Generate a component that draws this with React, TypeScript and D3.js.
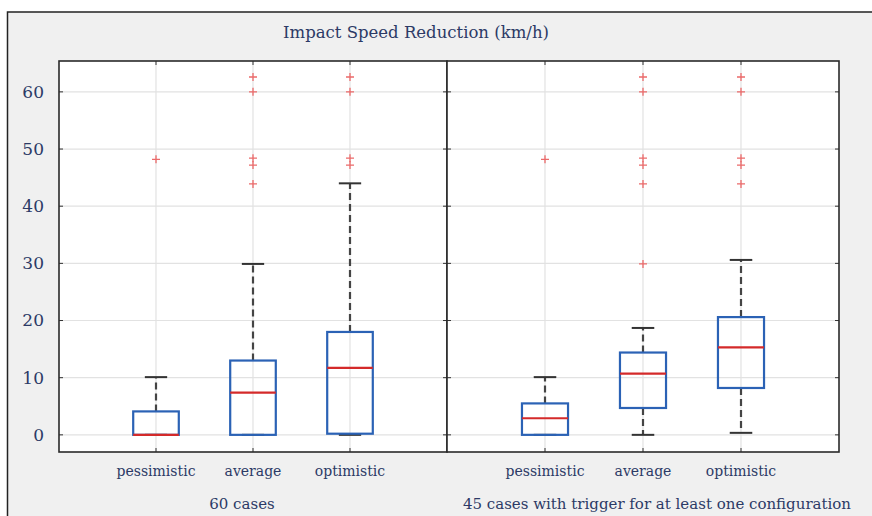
import React, { useEffect, useRef } from 'react';
import * as d3 from 'd3';

const categories = ['pessimistic', 'average', 'optimistic'];
const groupLabels = ['60 cases', '45 cases with trigger for at least one configuration'];
const yTicks = [0, 10, 20, 30, 40, 50, 60];

// one entry per group, one value per category
const whiskerLow = [[0, 0, 0], [0, 0, 0.35]];
const q1 = [[0, 0, 0.2], [0, 4.7, 8.2]];
const median = [[0, 7.4, 11.7], [2.9, 10.7, 15.3]];
const q3 = [[4.1, 13, 18], [5.5, 14.4, 20.6]];
const whiskerHigh = [[10.1, 29.9, 44], [10.1, 18.7, 30.6]];
const outliers = [
    [[48.2], [62.6, 60, 48.4, 47.2, 43.9], [62.6, 60, 48.4, 47.2]],
    [[48.2], [62.6, 60, 48.4, 47.2, 43.9, 29.9], [62.6, 60, 48.4, 47.2, 43.9]],
];

const W = 872;
const H = 516;

const App: React.FC = () => {
    const svgRef = useRef<SVGSVGElement>(null);

    useEffect(() => {
        if (!svgRef.current) return;
        const svg = d3.select(svgRef.current);
        svg.selectAll('*').remove();

        const textColor = '#2c3a66';
        const font = '"DejaVu Serif", serif';

        // outer frame
        svg.append('rect').attr('x', 7.5).attr('y', 12).attr('width', W).attr('height', H)
            .attr('fill', '#f0f0f0').attr('stroke', '#222').attr('stroke-width', 1.5);

        svg.append('text')
            .attr('x', 416).attr('y', 38)
            .attr('text-anchor', 'middle')
            .style('font-family', font).style('font-size', '16.5px').attr('fill', textColor)
            .text('Impact Speed Reduction (km/h)');

        const top = 61;
        const bottom = 452;
        const y = d3.scaleLinear().domain([-3, 65.4]).range([bottom, top]);

        const panels = [
            { x0: 59, x1: 447 },
            { x0: 447, x1: 839 },
        ];

        panels.forEach((p, gi) => {
            const x = d3.scaleLinear().domain([0, 4]).range([p.x0, p.x1]);
            const g = svg.append('g');

            g.append('rect').attr('x', p.x0).attr('y', top)
                .attr('width', p.x1 - p.x0).attr('height', bottom - top).attr('fill', '#fff');

            // grid
            g.selectAll('.hgrid').data(yTicks).enter().append('line')
                .attr('x1', p.x0).attr('x2', p.x1)
                .attr('y1', d => y(d)).attr('y2', d => y(d))
                .attr('stroke', '#e2e2e2').attr('stroke-width', 1.2);
            g.selectAll('.vgrid').data(categories).enter().append('line')
                .attr('x1', (_, i) => x(i + 1)).attr('x2', (_, i) => x(i + 1))
                .attr('y1', top).attr('y2', bottom)
                .attr('stroke', '#e2e2e2').attr('stroke-width', 1.2);

            // small ticks on frame
            g.selectAll('.ytl').data(yTicks).enter().append('line')
                .attr('x1', p.x0).attr('x2', p.x0 + 4)
                .attr('y1', d => y(d)).attr('y2', d => y(d))
                .attr('stroke', '#333');
            g.selectAll('.ytr').data(yTicks).enter().append('line')
                .attr('x1', p.x1 - 4).attr('x2', p.x1)
                .attr('y1', d => y(d)).attr('y2', d => y(d))
                .attr('stroke', '#333');
            g.selectAll('.xtt').data(categories).enter().append('line')
                .attr('x1', (_, i) => x(i + 1)).attr('x2', (_, i) => x(i + 1))
                .attr('y1', top).attr('y2', top + 4)
                .attr('stroke', '#333');
            g.selectAll('.xtb').data(categories).enter().append('line')
                .attr('x1', (_, i) => x(i + 1)).attr('x2', (_, i) => x(i + 1))
                .attr('y1', bottom - 4).attr('y2', bottom)
                .attr('stroke', '#333');

            const boxHalf = 0.235;
            const capHalf = 0.115;

            categories.forEach((cat, ci) => {
                const cx = x(ci + 1);
                const bw = x(1 + boxHalf) - x(1);
                const cw = x(1 + capHalf) - x(1);

                // whiskers
                g.append('line')
                    .attr('x1', cx).attr('x2', cx)
                    .attr('y1', y(q3[gi][ci])).attr('y2', y(whiskerHigh[gi][ci]))
                    .attr('stroke', '#444').attr('stroke-width', 2.2)
                    .attr('stroke-dasharray', '7,4');
                g.append('line')
                    .attr('x1', cx).attr('x2', cx)
                    .attr('y1', y(q1[gi][ci])).attr('y2', y(whiskerLow[gi][ci]))
                    .attr('stroke', '#444').attr('stroke-width', 2.2)
                    .attr('stroke-dasharray', '7,4');
                [whiskerHigh[gi][ci], whiskerLow[gi][ci]].forEach(v => {
                    g.append('line')
                        .attr('x1', cx - cw).attr('x2', cx + cw)
                        .attr('y1', y(v)).attr('y2', y(v))
                        .attr('stroke', '#333').attr('stroke-width', 2);
                });

                // box
                g.append('rect')
                    .attr('x', cx - bw).attr('width', bw * 2)
                    .attr('y', y(q3[gi][ci])).attr('height', y(q1[gi][ci]) - y(q3[gi][ci]))
                    .attr('fill', 'none').attr('stroke', '#2b62b5').attr('stroke-width', 2.2);

                g.append('line')
                    .attr('x1', cx - bw).attr('x2', cx + bw)
                    .attr('y1', y(median[gi][ci])).attr('y2', y(median[gi][ci]))
                    .attr('stroke', '#d42a2a').attr('stroke-width', 2.2);

                // outliers
                g.selectAll(`.out-${ci}`).data(outliers[gi][ci]).enter().append('path')
                    .attr('d', d => `M${cx - 4},${y(d)}H${cx + 4}M${cx},${y(d) - 4}V${y(d) + 4}`)
                    .attr('stroke', '#ec6a6a').attr('stroke-width', 1.3).attr('fill', 'none');

                g.append('text')
                    .attr('x', cx).attr('y', 476)
                    .attr('text-anchor', 'middle')
                    .style('font-family', font).style('font-size', '14px').attr('fill', textColor)
                    .text(cat);
            });

            g.append('rect').attr('x', p.x0).attr('y', top)
                .attr('width', p.x1 - p.x0).attr('height', bottom - top)
                .attr('fill', 'none').attr('stroke', '#2a2a2a').attr('stroke-width', 1.6);

            g.append('text')
                .attr('x', gi === 0 ? 242 : 657).attr('y', 509)
                .attr('text-anchor', 'middle')
                .style('font-family', font).style('font-size', '15px').attr('fill', textColor)
                .text(groupLabels[gi]);
        });

        // y tick labels
        svg.selectAll('.ylab').data(yTicks).enter().append('text')
            .attr('x', 44).attr('y', d => y(d)).attr('dy', '0.35em')
            .attr('text-anchor', 'end')
            .style('font-family', font).style('font-size', '17px').attr('fill', textColor)
            .text(d => d);
    }, []);

    return (
        <svg ref={svgRef} width={W} height={H}
            style={{ position: 'absolute', left: 0, top: 0, background: '#fff' }} />
    );
};

export default App;
